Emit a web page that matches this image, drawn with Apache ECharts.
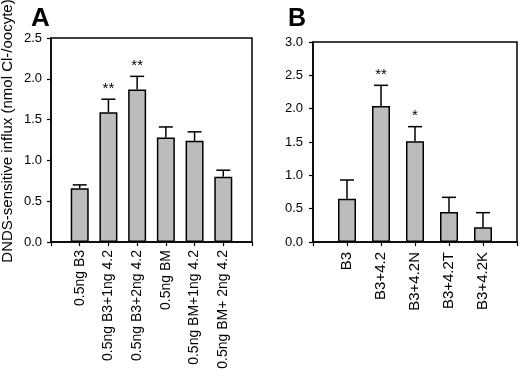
<!DOCTYPE html>
<html>
<head>
<meta charset="utf-8">
<script src="https://cdn.jsdelivr.net/npm/echarts@6/dist/echarts.min.js"></script>
<style>
  html, body { margin: 0; padding: 0; background: #fff; }
  #chart { width: 520px; height: 371px; }
</style>
</head>
<body>
<div id="chart"></div>
<script>
var catsA = ['0.5ng B3', '0.5ng B3+1ng 4.2', '0.5ng B3+2ng 4.2', '0.5ng BM', '0.5ng BM+1ng 4.2', '0.5ng BM+ 2ng 4.2'];
var valsA = [0.66, 1.59, 1.87, 1.28, 1.24, 0.80];
var errA = [0.04, 0.16, 0.16, 0.13, 0.11, 0.08];
var starsA = ['', '**', '**', '', '', ''];

var catsB = ['B3', 'B3+4.2', 'B3+4.2N', 'B3+4.2T', 'B3+4.2K'];
var valsB = [0.65, 2.04, 1.51, 0.45, 0.22];
var errB = [0.28, 0.31, 0.22, 0.22, 0.22];
var starsB = ['', '**', '*', '', ''];

var ticksA = [0, 2.5, 0.5];   // min, max, step
var ticksB = [0, 3.0, 0.5];

var font = 'Liberation Sans, Arial, sans-serif';
var chart = echarts.init(document.getElementById('chart'));

// empty slot at each end, bars sit on the inner ticks
function padCats(c) { return [''].concat(c, ['']); }
function padVals(v) { return ['-'].concat(v, ['-']); }

function errData(vals, errs) {
    var out = [];
    for (var i = 0; i < vals.length; i++) {
        out.push([i + 1, vals[i], errs[i]]);
    }
    return out;
}

function errRender(stars) {
    return function (params, api) {
        var x = api.value(0), v = api.value(1), e = api.value(2);
        var p0 = api.coord([x, v]);
        var p1 = api.coord([x, v + e]);
        var st = { stroke: '#000', lineWidth: 1.5 };
        var kids = [
            { type: 'line', shape: { x1: p0[0], y1: p0[1], x2: p1[0], y2: p1[1] }, style: st },
            { type: 'line', shape: { x1: p1[0] - 7, y1: p1[1], x2: p1[0] + 7, y2: p1[1] }, style: st }
        ];
        var s = stars[params.dataIndex];
        if (s) {
            kids.push({
                type: 'text',
                style: {
                    text: s, x: p1[0], y: p1[1] - 3,
                    align: 'center', verticalAlign: 'bottom',
                    fill: '#000', font: '15px ' + font
                }
            });
        }
        return { type: 'group', children: kids };
    };
}

function xAx(idx, cats, size, margin) {
    return {
        type: 'category', gridIndex: idx, boundaryGap: false,
        data: padCats(cats),
        axisLine: { lineStyle: { color: '#000', width: 1.5 } },
        axisTick: { show: true, interval: 0, length: 4, lineStyle: { color: '#000', width: 1.2 } },
        axisLabel: { interval: 0, rotate: 90, margin: margin, color: '#000', fontSize: size, fontFamily: font },
        splitLine: { show: false }
    };
}

function yAx(idx, t, margin) {
    return {
        type: 'value', gridIndex: idx, min: t[0], max: t[1], interval: t[2],
        axisLine: { show: true, lineStyle: { color: '#000', width: 1.5 } },
        axisTick: { show: true, length: 4, lineStyle: { color: '#000', width: 1.2 } },
        axisLabel: { margin: margin, color: '#000', fontSize: 13, fontFamily: font,
            formatter: function (v) { return v.toFixed(1); } },
        splitLine: { show: false }
    };
}

var barStyle = { color: '#bcbcbc', borderColor: '#000', borderWidth: 1.5 };

var option = {
    backgroundColor: '#fff',
    animation: false,
    title: [
        { text: 'A', left: 26, top: 1, textStyle: { fontSize: 26, fontWeight: 'bold', fontFamily: font, color: '#000' } },
        { text: 'B', left: 283, top: 2, textStyle: { fontSize: 25, fontWeight: 'bold', fontFamily: font, color: '#000' } }
    ],
    graphic: [{
        type: 'text', x: 8, y: 131, rotation: Math.PI / 2,
        style: { text: 'DNDS-sensitive influx (nmol Cl-/oocyte)', align: 'center', verticalAlign: 'middle',
            fill: '#000', font: '15px ' + font }
    }],
    grid: [
        { left: 51, top: 38, width: 201, height: 204, show: true, borderColor: '#000', borderWidth: 1.5, outerBoundsMode: 'none' },
        { left: 313, top: 42, width: 204, height: 200, show: true, borderColor: '#000', borderWidth: 1.5, outerBoundsMode: 'none' }
    ],
    xAxis: [xAx(0, catsA, 14, 8), xAx(1, catsB, 15, 10)],
    yAxis: [yAx(0, ticksA, 9), yAx(1, ticksB, 10)],
    series: [
        { type: 'bar', xAxisIndex: 0, yAxisIndex: 0, data: padVals(valsA), barWidth: 18, itemStyle: barStyle },
        { type: 'custom', xAxisIndex: 0, yAxisIndex: 0, data: errData(valsA, errA), renderItem: errRender(starsA), z: 3 },
        { type: 'bar', xAxisIndex: 1, yAxisIndex: 1, data: padVals(valsB), barWidth: 18, itemStyle: barStyle },
        { type: 'custom', xAxisIndex: 1, yAxisIndex: 1, data: errData(valsB, errB), renderItem: errRender(starsB), z: 3 }
    ]
};
chart.setOption(option);
</script>
</body>
</html>
